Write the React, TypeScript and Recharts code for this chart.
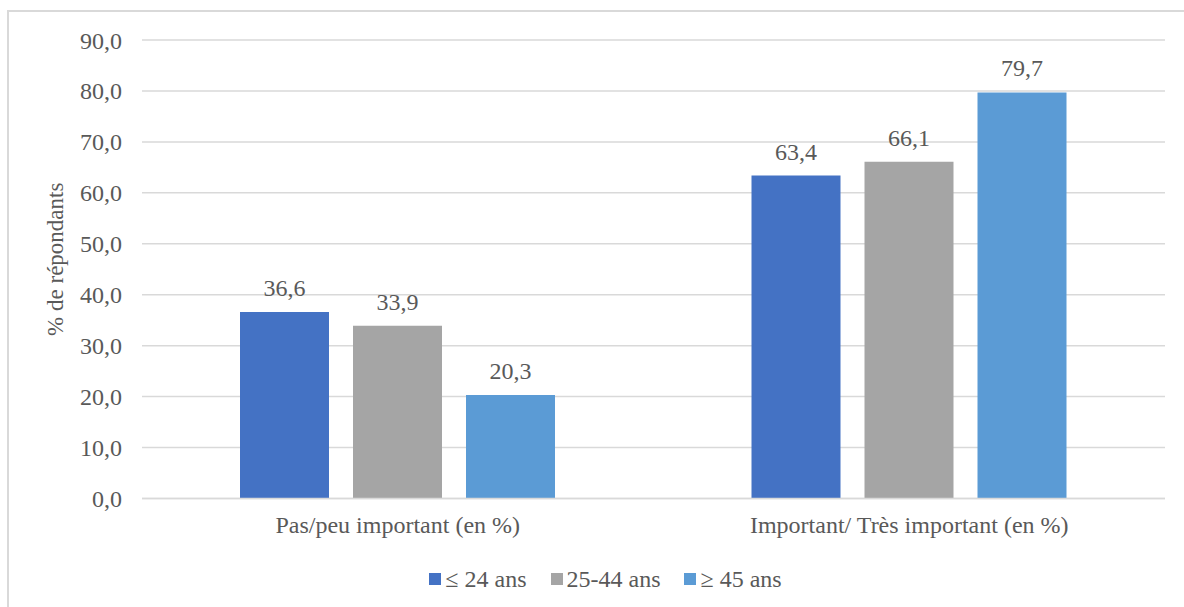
import React from 'react';
import { BarChart, Bar, XAxis, YAxis, CartesianGrid, Legend, LabelList } from 'recharts';

const categories = ['Pas/peu important (en %)', 'Important/ Très important (en %)'];
const age24 = [36.6, 63.4];
const age25_44 = [33.9, 66.1];
const age45 = [20.3, 79.7];
const yTicks = [0, 10, 20, 30, 40, 50, 60, 70, 80, 90];

const series = [
  { key: 'a', name: '≤ 24 ans', color: '#4472C4' },
  { key: 'b', name: '25-44 ans', color: '#A5A5A5' },
  { key: 'c', name: '≥ 45 ans', color: '#5B9BD5' },
];

const data = categories.map((name, i) => ({
  name,
  a: age24[i],
  b: age25_44[i],
  c: age45[i],
}));

const FONT = '"Liberation Serif", "Times New Roman", serif';
const TEXT = '#595959';
const GRID = '#D9D9D9';

const fmt = (v: number) => v.toFixed(1).replace('.', ',');

const LegendContent = () => (
  <div style={{ display: 'flex', justifyContent: 'center', alignItems: 'center', height: 30, transform: 'translateX(23px)', fontFamily: FONT, fontSize: 24, color: TEXT }}>
    {series.map((s) => (
      <div key={s.key} style={{ display: 'flex', alignItems: 'center', margin: '0 12px' }}>
        <span style={{ width: 12, height: 12, background: s.color, display: 'inline-block', marginRight: 4 }} />
        <span>{s.name}</span>
      </div>
    ))}
  </div>
);

const YLabel = ({ viewBox }: any) => {
  const x = viewBox.x + 55;
  const y = viewBox.y + viewBox.height / 2 - 10;
  return (
    <text x={x} y={y} transform={`rotate(-90 ${x} ${y})`} textAnchor="middle" dominantBaseline="central" fill={TEXT} fontFamily={FONT} fontSize={23}>
      % de répondants
    </text>
  );
};

export default function App() {
  return (
    <div style={{ position: 'fixed', left: 0, top: 0, width: 1184, height: 607, overflow: 'hidden', background: '#fff' }}>
      <div style={{ position: 'absolute', left: 7, top: 10, width: 1200, height: 700, border: `2px solid ${GRID}` }} />
      <div style={{ position: 'absolute', left: 0, top: 0 }}>
        <BarChart width={1184} height={607} data={data} margin={{ top: 40, right: 19, left: 0, bottom: 38.5 }} barGap={24}>
          <CartesianGrid vertical={false} stroke={GRID} strokeWidth={1.5} />
          <XAxis
            dataKey="name"
            height={40}
            tickLine={false}
            axisLine={{ stroke: GRID, strokeWidth: 1.5 }}
            tickMargin={11}
            tick={{ fill: TEXT, fontFamily: FONT, fontSize: 24 }}
          />
          <YAxis
            width={142}
            domain={[0, 90]}
            ticks={yTicks}
            tickFormatter={fmt}
            tickLine={false}
            axisLine={false}
            tickMargin={14}
            tick={{ fill: TEXT, fontFamily: FONT, fontSize: 24 }}
            label={<YLabel />}
          />
          <Legend verticalAlign="bottom" height={30} content={<LegendContent />} wrapperStyle={{ bottom: 13 }} />
          {series.map((s) => (
            <Bar key={s.key} dataKey={s.key} name={s.name} fill={s.color} barSize={89} isAnimationActive={false}>
              <LabelList dataKey={s.key} position="top" offset={16} formatter={(v: any) => fmt(Number(v))} fill={TEXT} fontFamily={FONT} fontSize={24} />
            </Bar>
          ))}
        </BarChart>
      </div>
    </div>
  );
}
